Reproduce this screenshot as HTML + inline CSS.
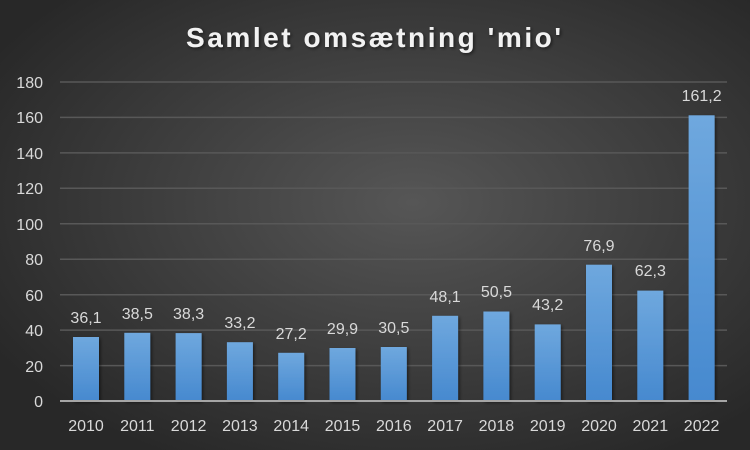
<!DOCTYPE html>
<html><head><meta charset="utf-8"><style>
html,body{margin:0;padding:0;background:#2b2b2b}
svg{display:block}
text{font-family:"Liberation Sans",sans-serif}
</style></head><body>
<svg width="750" height="450" xmlns="http://www.w3.org/2000/svg">
<defs>
<radialGradient id="bg" cx="55%" cy="45%" r="65%">
<stop offset="0" stop-color="#565656"/>
<stop offset="1" stop-color="#282828"/>
</radialGradient>
<linearGradient id="bar" x1="0" y1="0" x2="0" y2="1">
<stop offset="0" stop-color="#6fa8de"/>
<stop offset="1" stop-color="#4689cf"/>
</linearGradient>
<filter id="sh" x="-30%" y="-30%" width="160%" height="160%"><feDropShadow dx="1.5" dy="1.5" stdDeviation="1.5" flood-color="#000" flood-opacity="0.5"/></filter>
</defs>
<rect width="750" height="450" fill="url(#bg)"/>
<text x="186" y="47" font-size="28" font-weight="bold" fill="#f2f2f2" textLength="375" lengthAdjust="spacing" filter="url(#sh)">Samlet omsætning 'mio'</text>
<g stroke="#585858" stroke-width="1.5">
<line x1="60" x2="727" y1="82" y2="82"/><line x1="60" x2="727" y1="117.4" y2="117.4"/><line x1="60" x2="727" y1="152.9" y2="152.9"/><line x1="60" x2="727" y1="188.3" y2="188.3"/><line x1="60" x2="727" y1="223.8" y2="223.8"/><line x1="60" x2="727" y1="259.2" y2="259.2"/><line x1="60" x2="727" y1="294.7" y2="294.7"/><line x1="60" x2="727" y1="330.1" y2="330.1"/><line x1="60" x2="727" y1="365.6" y2="365.6"/>
</g>
<g font-size="16" fill="#d9d9d9" text-anchor="end">
<text x="43" y="88">180</text><text x="43" y="123">160</text><text x="43" y="159">140</text><text x="43" y="194">120</text><text x="43" y="230">100</text><text x="43" y="265">80</text><text x="43" y="301">60</text><text x="43" y="336">40</text><text x="43" y="372">20</text><text x="43" y="407">0</text>
</g>
<g filter="url(#sh)" fill="url(#bar)">
<rect x="73" y="337.0" width="26" height="64.0"/>
<rect x="124.3" y="332.8" width="26" height="68.2"/>
<rect x="175.6" y="333.1" width="26" height="67.9"/>
<rect x="226.9" y="342.2" width="26" height="58.8"/>
<rect x="278.2" y="352.8" width="26" height="48.2"/>
<rect x="329.5" y="348.0" width="26" height="53.0"/>
<rect x="380.8" y="347.0" width="26" height="54.0"/>
<rect x="432.1" y="315.8" width="26" height="85.2"/>
<rect x="483.4" y="311.5" width="26" height="89.5"/>
<rect x="534.7" y="324.4" width="26" height="76.6"/>
<rect x="586" y="264.7" width="26" height="136.3"/>
<rect x="637.3" y="290.6" width="26" height="110.4"/>
<rect x="688.6" y="115.3" width="26" height="285.7"/>
</g>
<line x1="60" x2="727" y1="401" y2="401" stroke="#a6a6a6" stroke-width="2"/>
<g font-size="16" fill="#d9d9d9" text-anchor="middle">
<text x="86" y="323">36,1</text><text x="137.3" y="319">38,5</text><text x="188.6" y="319">38,3</text><text x="239.9" y="328">33,2</text><text x="291.2" y="339">27,2</text><text x="342.5" y="334">29,9</text><text x="393.8" y="333">30,5</text><text x="445.1" y="302">48,1</text><text x="496.4" y="297">50,5</text><text x="547.7" y="310">43,2</text><text x="599" y="251">76,9</text><text x="650.3" y="276">62,3</text><text x="701.6" y="101">161,2</text>
</g>
<g font-size="16" fill="#d9d9d9" text-anchor="middle">
<text x="86" y="431">2010</text><text x="137.3" y="431">2011</text><text x="188.6" y="431">2012</text><text x="239.9" y="431">2013</text><text x="291.2" y="431">2014</text><text x="342.5" y="431">2015</text><text x="393.8" y="431">2016</text><text x="445.1" y="431">2017</text><text x="496.4" y="431">2018</text><text x="547.7" y="431">2019</text><text x="599" y="431">2020</text><text x="650.3" y="431">2021</text><text x="701.6" y="431">2022</text>
</g>
</svg>
</body></html>
